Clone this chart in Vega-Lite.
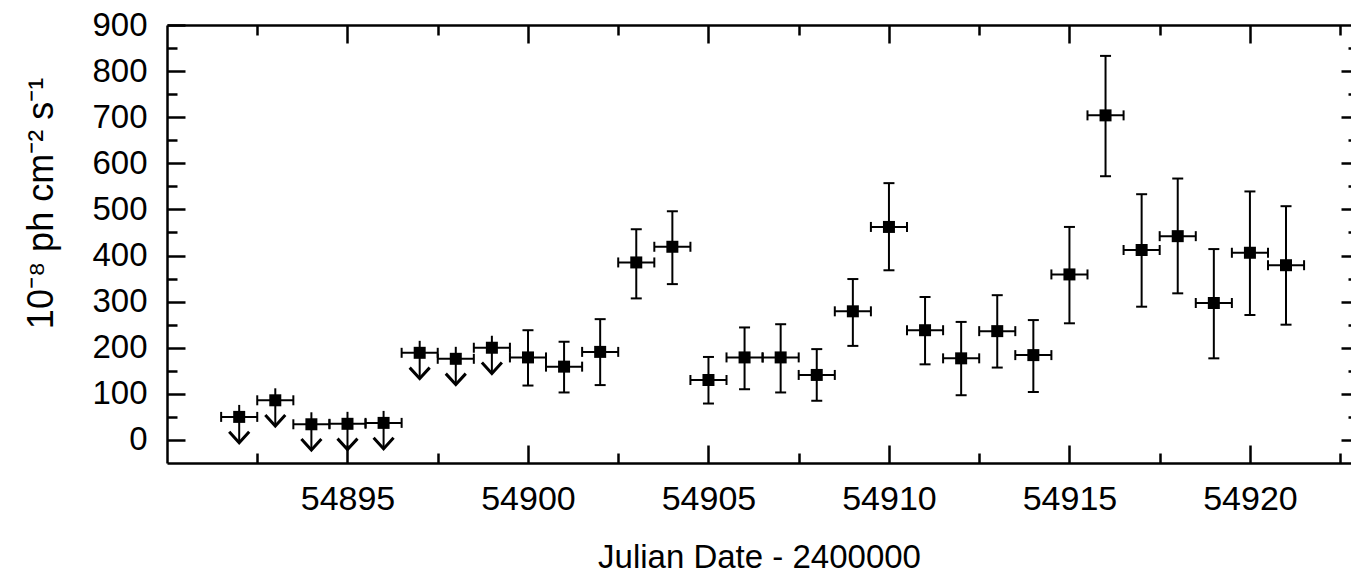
{
  "$schema": "https://vega.github.io/schema/vega-lite/v6.json",
  "width": 1184,
  "height": 438,
  "autosize": {"type": "none"},
  "padding": {"left": 167, "top": 25, "right": 0, "bottom": 114},
  "background": "white",
  "config": {
    "view": {"stroke": null},
    "axis": {
      "grid": false,
      "labelFont": "Liberation Sans",
      "titleFont": "Liberation Sans",
      "labelColor": "black",
      "titleColor": "black",
      "tickColor": "black",
      "domainColor": "black",
      "tickWidth": 2.5,
      "domainWidth": 2.5,
      "titleFontWeight": "normal"
    }
  },
  "data": {
    "values": [
      {"t": 54892, "t0": 54891.5, "t1": 54892.5, "v": 50, "lo": -6, "hi": 76, "ul": true},
      {"t": 54893, "t0": 54892.5, "t1": 54893.5, "v": 86, "lo": 30, "hi": 112, "ul": true},
      {"t": 54894, "t0": 54893.5, "t1": 54894.5, "v": 34, "lo": -22, "hi": 60, "ul": true},
      {"t": 54895, "t0": 54894.5, "t1": 54895.5, "v": 35, "lo": -21, "hi": 61, "ul": true},
      {"t": 54896, "t0": 54895.5, "t1": 54896.5, "v": 37, "lo": -19, "hi": 63, "ul": true},
      {"t": 54897, "t0": 54896.5, "t1": 54897.5, "v": 189, "lo": 133, "hi": 215, "ul": true},
      {"t": 54898, "t0": 54897.5, "t1": 54898.5, "v": 176, "lo": 120, "hi": 202, "ul": true},
      {"t": 54899, "t0": 54898.5, "t1": 54899.5, "v": 200, "lo": 144, "hi": 226, "ul": true},
      {"t": 54900, "t0": 54899.5, "t1": 54900.5, "v": 179, "lo": 118, "hi": 238, "ul": false},
      {"t": 54901, "t0": 54900.5, "t1": 54901.5, "v": 159, "lo": 103, "hi": 213, "ul": false},
      {"t": 54902, "t0": 54901.5, "t1": 54902.5, "v": 191, "lo": 119, "hi": 262, "ul": false},
      {"t": 54903, "t0": 54902.5, "t1": 54903.5, "v": 385, "lo": 307, "hi": 457, "ul": false},
      {"t": 54904, "t0": 54903.5, "t1": 54904.5, "v": 419, "lo": 338, "hi": 496, "ul": false},
      {"t": 54905, "t0": 54904.5, "t1": 54905.5, "v": 130, "lo": 79, "hi": 180, "ul": false},
      {"t": 54906, "t0": 54905.5, "t1": 54906.5, "v": 179, "lo": 110, "hi": 244, "ul": false},
      {"t": 54907, "t0": 54906.5, "t1": 54907.5, "v": 179, "lo": 103, "hi": 251, "ul": false},
      {"t": 54908, "t0": 54907.5, "t1": 54908.5, "v": 141, "lo": 85, "hi": 197, "ul": false},
      {"t": 54909, "t0": 54908.5, "t1": 54909.5, "v": 279, "lo": 204, "hi": 349, "ul": false},
      {"t": 54910, "t0": 54909.5, "t1": 54910.5, "v": 462, "lo": 368, "hi": 557, "ul": false},
      {"t": 54911, "t0": 54910.5, "t1": 54911.5, "v": 238, "lo": 164, "hi": 310, "ul": false},
      {"t": 54912, "t0": 54911.5, "t1": 54912.5, "v": 177, "lo": 97, "hi": 256, "ul": false},
      {"t": 54913, "t0": 54912.5, "t1": 54913.5, "v": 236, "lo": 157, "hi": 314, "ul": false},
      {"t": 54914, "t0": 54913.5, "t1": 54914.5, "v": 184, "lo": 104, "hi": 260, "ul": false},
      {"t": 54915, "t0": 54914.5, "t1": 54915.5, "v": 359, "lo": 253, "hi": 462, "ul": false},
      {"t": 54916, "t0": 54915.5, "t1": 54916.5, "v": 704, "lo": 572, "hi": 833, "ul": false},
      {"t": 54917, "t0": 54916.5, "t1": 54917.5, "v": 412, "lo": 289, "hi": 533, "ul": false},
      {"t": 54918, "t0": 54917.5, "t1": 54918.5, "v": 442, "lo": 318, "hi": 567, "ul": false},
      {"t": 54919, "t0": 54918.5, "t1": 54919.5, "v": 297, "lo": 177, "hi": 414, "ul": false},
      {"t": 54920, "t0": 54919.5, "t1": 54920.5, "v": 406, "lo": 271, "hi": 539, "ul": false},
      {"t": 54921, "t0": 54920.5, "t1": 54921.5, "v": 379, "lo": 250, "hi": 507, "ul": false}
    ]
  },
  "resolve": {"axis": {"x": "independent", "y": "independent"}},
  "layer": [
    {
      "mark": {"type": "rule", "strokeWidth": 2, "color": "black"},
      "encoding": {
        "x": {"field": "t0", "type": "quantitative",
          "scale": {"domain": [54890, 54922.8], "nice": false, "zero": false},
          "axis": {"orient": "bottom", "values": [54895, 54900, 54905, 54910, 54915, 54920], "format": "d",
            "tickSize": -18, "labelPadding": 37, "labelFontSize": 34, "labelOverlap": false, "labelFlush": false,
            "domain": true, "title": "Julian Date - 2400000", "titleFontSize": 33, "titleY": 104, "titleBaseline": "alphabetic"}},
        "x2": {"field": "t1"},
        "y": {"field": "v", "type": "quantitative",
          "scale": {"domain": [-50, 900], "nice": false, "zero": false},
          "axis": {"orient": "left", "values": [0, 100, 200, 300, 400, 500, 600, 700, 800, 900], "format": "d",
            "tickSize": -18, "labelPadding": 38, "labelFontSize": 33, "labelOverlap": false, "labelFlush": false,
            "domain": true, "title": "10⁻⁸ ph cm⁻² s⁻¹", "titleFontSize": 36, "titleX": -115, "titleY": 178,
            "titleAngle": -90, "titleBaseline": "alphabetic"}}
      }
    },
    {
      "mark": {"type": "rule", "strokeWidth": 2, "color": "black"},
      "encoding": {
        "x": {"field": "t", "type": "quantitative",
          "scale": {"domain": [54890, 54922.8], "nice": false, "zero": false},
          "axis": {"orient": "bottom", "values": [54892.5, 54897.5, 54902.5, 54907.5, 54912.5, 54917.5, 54922.5],
            "tickSize": -10, "labels": false, "domain": false, "title": null}},
        "y": {"field": "lo", "type": "quantitative",
          "scale": {"domain": [-50, 900], "nice": false, "zero": false},
          "axis": {"orient": "left", "values": [50, 150, 250, 350, 450, 550, 650, 750, 850],
            "tickSize": -10, "labels": false, "domain": false, "title": null}},
        "y2": {"field": "hi"}
      }
    },
    {
      "mark": {"type": "tick", "orient": "vertical", "size": 10, "thickness": 2, "color": "black", "opacity": 1},
      "encoding": {
        "x": {"field": "t0", "type": "quantitative",
          "scale": {"domain": [54890, 54922.8], "nice": false, "zero": false},
          "axis": {"orient": "top", "values": [54895, 54900, 54905, 54910, 54915, 54920],
            "tickSize": -18, "labels": false, "domain": true, "title": null}},
        "y": {"field": "v", "type": "quantitative",
          "scale": {"domain": [-50, 900], "nice": false, "zero": false},
          "axis": {"orient": "right", "values": [0, 100, 200, 300, 400, 500, 600, 700, 800],
            "tickSize": -10, "labels": false, "domain": false, "title": null}}
      }
    },
    {
      "mark": {"type": "tick", "orient": "vertical", "size": 10, "thickness": 2, "color": "black", "opacity": 1},
      "encoding": {
        "x": {"field": "t1", "type": "quantitative",
          "scale": {"domain": [54890, 54922.8], "nice": false, "zero": false},
          "axis": {"orient": "top", "values": [54892.5, 54897.5, 54902.5, 54907.5, 54912.5, 54917.5, 54922.5],
            "tickSize": -10, "labels": false, "domain": false, "title": null}},
        "y": {"field": "v", "type": "quantitative",
          "scale": {"domain": [-50, 900], "nice": false, "zero": false},
          "axis": {"orient": "right", "values": [50, 150, 250, 350, 450, 550, 650, 750, 850],
            "tickSize": -3, "labels": false, "domain": false, "title": null}}
      }
    },
    {
      "transform": [{"filter": "!datum.ul"}],
      "mark": {"type": "tick", "orient": "horizontal", "size": 11, "thickness": 2, "color": "black", "opacity": 1},
      "encoding": {
        "x": {"field": "t", "type": "quantitative", "scale": {"domain": [54890, 54922.8], "nice": false, "zero": false}, "axis": null},
        "y": {"field": "lo", "type": "quantitative", "scale": {"domain": [-50, 900], "nice": false, "zero": false}, "axis": null}
      }
    },
    {
      "transform": [{"filter": "!datum.ul"}],
      "mark": {"type": "tick", "orient": "horizontal", "size": 11, "thickness": 2, "color": "black", "opacity": 1},
      "encoding": {
        "x": {"field": "t", "type": "quantitative", "scale": {"domain": [54890, 54922.8], "nice": false, "zero": false}, "axis": null},
        "y": {"field": "hi", "type": "quantitative", "scale": {"domain": [-50, 900], "nice": false, "zero": false}, "axis": null}
      }
    },
    {
      "transform": [{"filter": "datum.ul"}],
      "mark": {"type": "point", "shape": "M-1,-1.1L0,0L1,-1.1", "size": 400, "filled": false, "stroke": "black", "strokeWidth": 3, "opacity": 1},
      "encoding": {
        "x": {"field": "t", "type": "quantitative", "scale": {"domain": [54890, 54922.8], "nice": false, "zero": false}, "axis": null},
        "y": {"field": "lo", "type": "quantitative", "scale": {"domain": [-50, 900], "nice": false, "zero": false}, "axis": null}
      }
    },
    {
      "mark": {"type": "point", "shape": "square", "size": 144, "filled": true, "color": "black", "opacity": 1},
      "encoding": {
        "x": {"field": "t", "type": "quantitative", "scale": {"domain": [54890, 54922.8], "nice": false, "zero": false}, "axis": null},
        "y": {"field": "v", "type": "quantitative", "scale": {"domain": [-50, 900], "nice": false, "zero": false}, "axis": null}
      }
    }
  ]
}
